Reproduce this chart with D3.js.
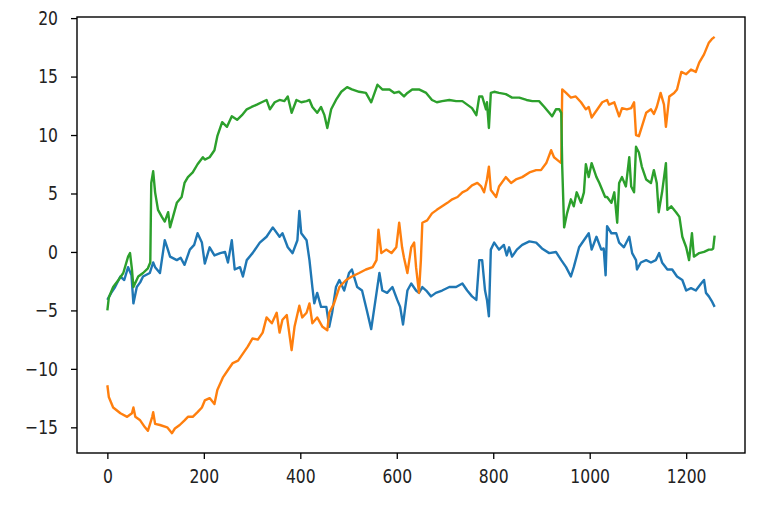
<!DOCTYPE html>
<html>
<head>
<meta charset="utf-8">
<script src="https://cdn.jsdelivr.net/npm/d3@7"></script>
<style>
	body { margin: 0; background: #fff; }
	svg { display: block; }
	.tick text { font-family: "DejaVu Sans", sans-serif; font-size: 20px; fill: #222; }
</style>
</head>
<body>
<svg id="chart" width="762" height="510"></svg>
<script>
// values: [step, value]
var blueSeries = [[0,-4.1],[8,-3.5],[16,-3.0],[27,-2.1],[35,-2.4],[43,-1.3],[50,-2.0],[54,-4.4],[61,-3.0],[68,-2.6],[74,-2.1],[88,-1.8],[95,-0.9],[99,-1.3],[109,-1.8],[119,1.0],[124,0.4],[130,-0.4],[144,-0.7],[152,-0.5],[160,-1.1],[171,0.2],[180,0.6],[187,1.6],[196,0.8],[202,-1.0],[212,0.4],[222,-0.3],
	[234,-0.1],[244,0],[250,-0.9],[258,1.0],[264,-1.5],[275,-1.3],[281,-2.1],[289,-0.7],[301,-0.1],[316,0.8],[330,1.3],[343,2.1],[357,1.3],[363,1.6],[374,0.4],[384,-0.1],[394,1.0],[398,3.5],[402,1.6],[413,1.0],[419,-0.7],[425,-3.0],[429,-4.4],[435,-3.5],[443,-4.7],[454,-4.7],[460,-6.4],[466,-5.2],[474,-3.0],[481,-2.4],[491,-3.3],[501,-1.8],[507,-1.5],[518,-3.0],[528,-3.3],[538,-5.0],
	[547,-6.6],[558,-3.5],[564,-1.8],[570,-3.3],[580,-3.5],[591,-3.0],[601,-4.1],[607,-4.7],[613,-6.2],[622,-3.3],[630,-2.7],[640,-3.3],[646,-3.5],[653,-3.0],[661,-3.3],[671,-3.8],[681,-3.5],[694,-3.3],
	[709,-3.0],[723,-3.0],[736,-2.7],[746,-3.3],[756,-3.8],[765,-4.1],[771,-0.7],[777,-0.7],[783,-3.3],[787,-4.1],[791,-5.5],[795,0.2],[802,0.8],[812,0.2],[822,0.6],[828,-0.3],[833,0.4],[839,-0.4],[849,0.2],
	[860,0.6],[875,0.9],[889,0.8],[901,0.3],[916,-0.1],[930,0],[941,-0.7],[951,-1.3],[961,-2.1],[967,-1.3],[978,0.4],[988,1.0],[998,1.6],[1004,0.2],
	[1014,1.3],[1024,0.2],[1029,0.3],[1033,-2.0],[1036,2.2],[1045,1.6],[1055,1.6],[1061,0.8],[1071,0.4],[1082,1.3],[1088,-0.1],[1096,-0.7],[1098,-1.5],[1106,-0.9],[1117,-0.7],[1127,-0.9],[1137,-0.7],[1144,-0.1],[1150,-0.9],
	[1161,-1.5],[1171,-1.5],[1181,-2.1],[1192,-2.4],[1200,-3.3],[1210,-3.1],[1220,-3.3],[1231,-2.7],[1237,-2.4],[1241,-3.5],[1247,-3.8],[1253,-4.2],[1259,-4.7]];

var orangeSeries = [[0,-11.4],[3,-12.4],[12,-13.3],[27,-13.8],[41,-14.1],[51,-13.8],[54,-13.3],[58,-14.1],[68,-14.4],[78,-15.0],[84,-15.3],[93,-14.1],[95,-13.7],[99,-14.7],[109,-14.8],[124,-15.0],[134,-15.5],[140,-15.1],[150,-14.8],[160,-14.4],[167,-14.1],[177,-14.1],[187,-13.7],[196,-13.3],[202,-12.7],[212,-12.5],[222,-13.0],[228,-11.8],
	[240,-10.7],[250,-10.1],[260,-9.5],[271,-9.3],[281,-8.7],[291,-8.1],[301,-7.4],[312,-7.5],[322,-6.9],[330,-5.6],[341,-6.1],[351,-5.2],[357,-6.9],[363,-5.8],[372,-5.4],[382,-8.4],[388,-6.4],[398,-4.6],[404,-5.6],[413,-5.2],[419,-4.4],[425,-6.1],[435,-5.6],[446,-6.4],[456,-6.7],[460,-5.2],[470,-4.4],[481,-3.0],[495,-2.4],[507,-2.1],[522,-1.8],[536,-1.5],
	[550,-1.3],[558,-0.7],[562,1.9],[568,-0.1],[578,0.2],[589,-0.1],[599,0.4],[605,2.5],[611,0.4],[615,-0.5],[622,-1.8],[630,0.4],[636,0.8],[640,-1.3],[646,-3.5],[650,-0.7],[653,2.5],[663,2.7],[673,3.3],[683,3.6],[694,3.9],
	[705,4.2],[715,4.5],[726,4.7],[736,5.1],[746,5.3],[756,5.7],[767,5.9],[775,5.6],[781,5.1],[787,6.2],[791,7.3],[795,5.3],[806,4.7],[812,5.6],[826,6.4],[837,5.9],[847,6.2],
	[860,6.4],[875,6.8],[889,7.0],[899,7.0],[910,7.6],[920,8.7],[926,8.1],[932,7.9],[941,7.6],[943,13.9],[951,13.6],[961,13.2],[971,13.3],[982,12.8],[992,12.2],[998,12.4],[1004,11.5],
	[1016,12.2],[1026,12.8],[1036,13.0],[1040,12.6],[1051,12.8],[1061,11.6],[1067,12.3],[1077,12.2],[1086,12.3],[1092,12.8],[1096,10.0],[1102,9.9],[1108,10.7],[1117,11.9],[1127,12.2],[1133,11.8],[1139,12.4],[1147,13.6],[1154,12.6],[1158,10.7],
	[1165,13.3],[1175,13.6],[1181,13.9],[1190,15.4],[1200,15.2],[1210,15.6],[1220,15.4],[1227,16.2],[1237,16.9],[1247,17.9],[1253,18.2],[1259,18.4]];

var greenSeries = [[0,-5.0],[3,-3.9],[12,-3.0],[23,-2.4],[33,-1.8],[43,-0.4],[47,-0.1],[51,-1.5],[54,-3.0],[64,-2.1],[74,-1.8],[84,-1.4],[89,-0.9],[91,5.9],[95,6.9],[99,5.1],[105,3.6],[113,3.0],[119,2.6],[126,3.4],[130,2.1],[136,3.0],[144,4.2],[154,4.7],[160,5.9],[167,6.4],[177,6.8],[187,7.5],[198,8.1],[202,7.9],[212,8.1],[222,8.7],[228,9.9],
	[238,11.1],[248,10.7],[258,11.6],[269,11.3],[279,11.7],[289,12.2],[299,12.4],[310,12.6],[320,12.8],[330,13.0],[337,12.2],[347,12.8],[357,13.0],[367,12.9],[374,13.3],[382,11.9],[392,13.0],[402,12.8],[413,12.9],[419,13.0],[425,12.4],[435,11.9],[443,12.4],[450,11.7],[456,10.6],[464,12.2],[474,13.0],[485,13.7],[497,14.1],[507,13.9],[522,13.7],[536,13.6],
	[547,12.8],[554,13.6],[560,14.3],[570,13.9],[585,13.9],[595,13.6],[605,13.7],[615,13.3],[622,13.6],[632,13.9],[646,13.9],[661,13.6],[673,13.0],[683,12.8],[694,12.9],
	[709,13.0],[723,12.9],[736,12.9],[746,12.6],[756,12.3],[765,11.7],[771,13.3],[777,13.3],[785,12.2],[787,12.8],[791,10.6],[795,13.6],[802,13.7],[812,13.6],[826,13.5],[839,13.2],
	[854,13.2],[869,13.0],[881,12.9],[895,12.9],[906,12.4],[916,11.9],[922,11.6],[930,12.2],[937,12.2],[941,11.9],[943,7.3],[947,2.1],[953,3.3],[961,4.5],[967,3.9],[973,5.1],[982,4.2],[988,5.1],[992,7.5],[998,6.4],[1004,7.6],
	[1014,6.4],[1020,5.9],[1026,5.3],[1032,4.7],[1036,4.7],[1045,4.2],[1051,5.1],[1057,2.5],[1061,5.9],[1067,6.4],[1075,5.6],[1082,8.1],[1086,5.6],[1092,5.1],[1096,9.0],[1102,8.5],[1108,7.3],[1117,6.2],[1127,5.9],[1133,7.0],[1139,5.9],[1143,3.4],[1150,5.1],[1158,7.6],
	[1161,3.6],[1169,3.9],[1179,3.4],[1186,3.0],[1192,1.3],[1200,0.4],[1206,-0.7],[1212,1.6],[1216,-0.4],[1227,-0.1],[1237,0],[1247,0.2],[1253,0.2],[1256,0.3],[1259,1.4]];

var seriesColors = ["#1f77b4", "#ff7f0e", "#2ca02c"];
var xTickValues = [0, 200, 400, 600, 800, 1000, 1200];
var yTickValues = [-15, -10, -5, 0, 5, 10, 15, 20];

var margin = {left: 77, right: 17, top: 17, bottom: 57},
	width = 762,
	height = 510;

// matplotlib style autoscale: data extent plus 5% each side
function padded(ext) {
	var pad = (ext[1] - ext[0]) * 0.05;
	return [ext[0] - pad, ext[1] + pad];
}

function drawChart() {
	var svg = d3.select("#chart"),
		allSeries = [blueSeries, orangeSeries, greenSeries],
		allPts = d3.merge(allSeries),
		fmt = d3.format("d");

	var xscale = d3.scaleLinear()
		.domain(padded(d3.extent(allPts, function (d) { return d[0]; })))
		.range([margin.left, width - margin.right]);
	var yscale = d3.scaleLinear()
		.domain(padded(d3.extent(allPts, function (d) { return d[1]; })))
		.range([height - margin.bottom, margin.top]);

	var line = d3.line()
		.x(function (d) { return xscale(d[0]); })
		.y(function (d) { return yscale(d[1]); });

	allSeries.forEach(function (s, i) {
		svg.append("path")
			.datum(s)
			.attr("d", line)
			.attr("fill", "none")
			.attr("stroke", seriesColors[i])
			.attr("stroke-width", 2.4)
			.attr("stroke-linejoin", "round");
	});

	var xaxis = svg.append("g")
		.attr("transform", "translate(0," + (height - margin.bottom) + ")")
		.call(d3.axisBottom(xscale).tickValues(xTickValues).tickFormat(fmt).tickSize(6).tickSizeOuter(0));
	xaxis.selectAll(".tick text")
		.attr("y", 0).attr("dy", 0)
		.attr("transform", "translate(0,30) scale(0.78,1)");

	var yaxis = svg.append("g")
		.attr("transform", "translate(" + margin.left + ",0)")
		.call(d3.axisLeft(yscale).tickValues(yTickValues).tickFormat(fmt).tickSize(6).tickSizeOuter(0));
	yaxis.selectAll(".tick text")
		.attr("x", 0)
		.attr("transform", "translate(-19,0) scale(0.78,1)");

	svg.selectAll(".domain").remove();
	svg.selectAll(".tick line").attr("stroke", "#000").attr("stroke-width", 1.3);

	// frame round the plot area
	svg.append("rect")
		.attr("x", margin.left)
		.attr("y", margin.top)
		.attr("width", width - margin.left - margin.right)
		.attr("height", height - margin.top - margin.bottom)
		.attr("fill", "none")
		.attr("stroke", "#000")
		.attr("stroke-width", 1.4);
}

drawChart();
</script>
</body>
</html>
